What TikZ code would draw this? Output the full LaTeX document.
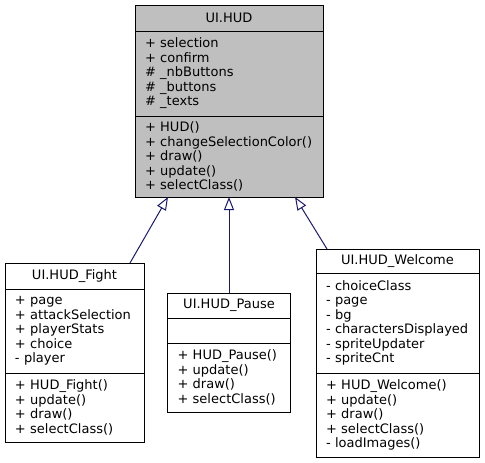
\documentclass[tikz,border=0pt]{standalone}
\usepackage{fontspec}
\setmainfont{DejaVu Sans}
\usetikzlibrary{positioning,arrows.meta}

\definecolor{edgeblue}{HTML}{191970}
\definecolor{basegray}{HTML}{BFBFBF}

\tikzset{
  umlbox/.style={draw=black, line width=1pt, outer sep=0pt, inner ysep=0pt,
    anchor=north, font=\fontsize{13}{14.5}\selectfont},
  umltitle/.style={umlbox, inner xsep=0pt},
  umlpart/.style={umlbox, inner xsep=10pt, align=left, below=0pt of #1},
  inherit/.style={draw=edgeblue, line width=1pt,
    -{Triangle[open, length=13pt, width=10pt, fill=white]}},
}

\begin{document}
\begin{tikzpicture}[x=1pt,y=-1pt]
    \useasboundingbox (0,0) rectangle (485,463);
    % base class
    \node[umltitle,fill=basegray,minimum width=188pt,minimum height=26pt] (hud) at (229,5) {UI.HUD};
    \node[umlpart=hud,fill=basegray,text width=168pt,minimum height=85pt] (hud-a)
        {+ selection\\+ confirm\\\# \_nbButtons\\\# \_buttons\\\# \_texts};
    \node[umlpart=hud-a,fill=basegray,text width=168pt,minimum height=81pt] (hud-m)
        {+ HUD()\\+ changeSelectionColor()\\+ draw()\\+ update()\\+ selectClass()};
    % derived classes
    \node[umltitle,fill=white,minimum width=139pt,minimum height=26pt] (fight) at (74.5,263) {UI.HUD\_Fight};
    \node[umlpart=fight,text width=119pt,minimum height=84pt] (fight-a)
        {+ page\\+ attackSelection\\+ playerStats\\+ choice\\- player};
    \node[umlpart=fight-a,text width=119pt,minimum height=69pt] (fight-m)
        {+ HUD\_Fight()\\+ update()\\+ draw()\\+ selectClass()};
    \node[umltitle,fill=white,minimum width=123pt,minimum height=25pt] (pause) at (229,293) {UI.HUD\_Pause};
    \node[umlpart=pause,text width=103pt,minimum height=25pt] (pause-a) {};
    \node[umlpart=pause-a,text width=103pt,minimum height=69pt] (pause-m)
        {+ HUD\_Pause()\\+ update()\\+ draw()\\+ selectClass()};
    \node[umltitle,fill=white,minimum width=163pt,minimum height=24pt] (welcome) at (397.5,249) {UI.HUD\_Welcome};
    \node[umlpart=welcome,text width=143pt,minimum height=100pt] (welcome-a)
        {- choiceClass\\- page\\- bg\\- charactersDisplayed\\- spriteUpdater\\- spriteCnt};
    \node[umlpart=welcome-a,text width=143pt,minimum height=84pt] (welcome-m)
        {+ HUD\_Welcome()\\+ update()\\+ draw()\\+ selectClass()\\- loadImages()};
    % inheritance
    \draw[inherit] ([xshift=55.5pt]fight.north) -- ([xshift=-61pt]hud-m.south);
    \draw[inherit] (pause.north) -- (hud-m.south);
    \draw[inherit] ([xshift=-70.5pt]welcome.north) -- ([xshift=66pt]hud-m.south);
\end{tikzpicture}
\end{document}
